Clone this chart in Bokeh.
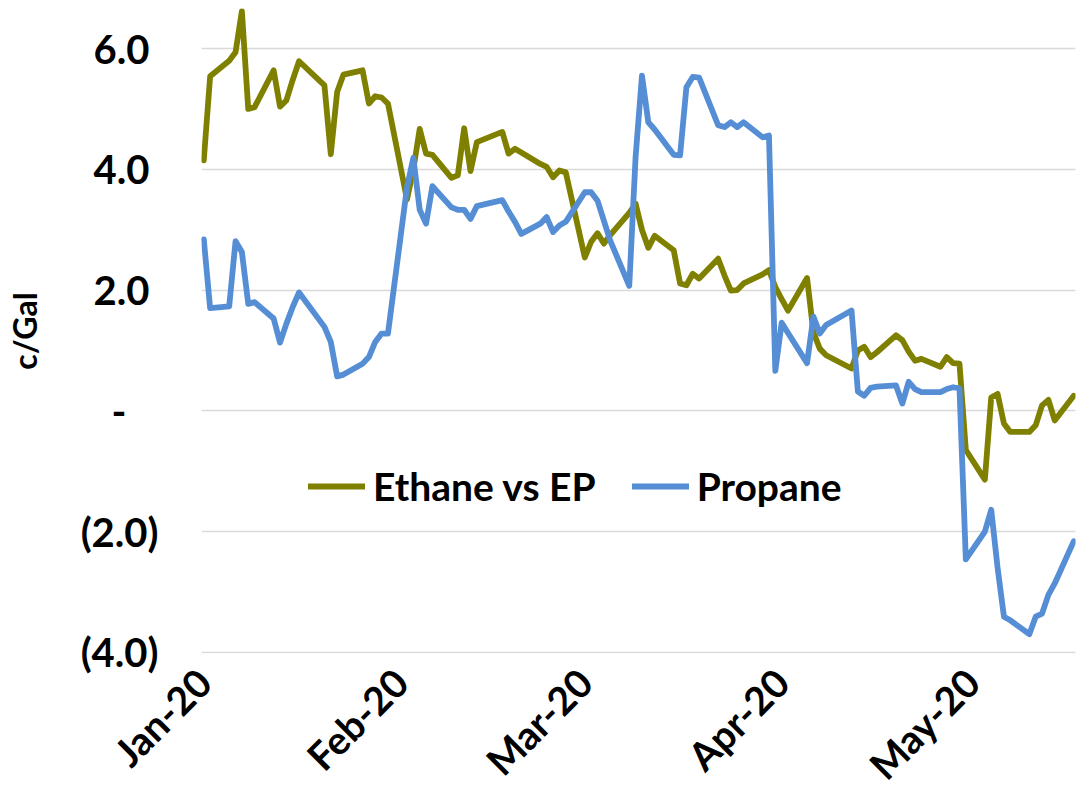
import math
import pandas as pd
from bokeh.plotting import figure
from bokeh.models import (Range1d, FixedTicker, DatetimeTickFormatter, Legend, LegendItem,
                          ColumnDataSource)
from bokeh.embed import file_html
from bokeh.resources import INLINE

# ---------------- data ----------------
dates = [
    "2020-01-02", "2020-01-03", "2020-01-06", "2020-01-07", "2020-01-08", "2020-01-09", "2020-01-10",
    "2020-01-13", "2020-01-14", "2020-01-15", "2020-01-16", "2020-01-17",
    "2020-01-21", "2020-01-22", "2020-01-23", "2020-01-24",
    "2020-01-27", "2020-01-28", "2020-01-29", "2020-01-30", "2020-01-31",
    "2020-02-03", "2020-02-04", "2020-02-05", "2020-02-06", "2020-02-07",
    "2020-02-10", "2020-02-11", "2020-02-12", "2020-02-13", "2020-02-14",
    "2020-02-18", "2020-02-19", "2020-02-20", "2020-02-21",
    "2020-02-24", "2020-02-25", "2020-02-26", "2020-02-27", "2020-02-28",
    "2020-03-02", "2020-03-03", "2020-03-04", "2020-03-05", "2020-03-06",
    "2020-03-09", "2020-03-10", "2020-03-11", "2020-03-12", "2020-03-13",
    "2020-03-16", "2020-03-17", "2020-03-18", "2020-03-19", "2020-03-20",
    "2020-03-23", "2020-03-24", "2020-03-25", "2020-03-26", "2020-03-27",
    "2020-03-30", "2020-03-31", "2020-04-01", "2020-04-02", "2020-04-03",
    "2020-04-06", "2020-04-07", "2020-04-08", "2020-04-09",
    "2020-04-13", "2020-04-14", "2020-04-15", "2020-04-16", "2020-04-17",
    "2020-04-20", "2020-04-21", "2020-04-22", "2020-04-23", "2020-04-24",
    "2020-04-27", "2020-04-28", "2020-04-29", "2020-04-30", "2020-05-01",
    "2020-05-04", "2020-05-05", "2020-05-06", "2020-05-07", "2020-05-08",
    "2020-05-11", "2020-05-12", "2020-05-13", "2020-05-14", "2020-05-15",
    "2020-05-18",
]

ethane = [
    4.15, 5.54, 5.80, 5.94, 6.62, 5.00, 5.03,
    5.64, 5.04, 5.14, 5.48, 5.79,
    5.39, 4.25, 5.28, 5.57,
    5.64, 5.09, 5.21, 5.19, 5.09,
    3.50, 4.00, 4.67, 4.26, 4.24,
    3.86, 3.90, 4.68, 3.97, 4.45,
    4.62, 4.26, 4.34, 4.28,
    4.09, 4.04, 3.87, 3.98, 3.95,
    2.54, 2.80, 2.94, 2.77, 2.91,
    3.28, 3.43, 3.00, 2.70, 2.90,
    2.66, 2.11, 2.08, 2.27, 2.19,
    2.52, 2.24, 1.99, 2.00, 2.11,
    2.26, 2.33, 2.05, 1.85, 1.66,
    2.20, 1.30, 1.03, 0.92,
    0.70, 1.00, 1.06, 0.89, 0.97,
    1.25, 1.17, 0.98, 0.83, 0.86,
    0.73, 0.89, 0.79, 0.78, -0.65,
    -1.14, 0.22, 0.28, -0.21, -0.35,
    -0.35, -0.24, 0.09, 0.18, -0.16,
    0.25,
]

propane = [
    2.84, 1.70, 1.73, 2.81, 2.63, 1.77, 1.80,
    1.53, 1.13, 1.44, 1.72, 1.96,
    1.39, 1.14, 0.57, 0.60,
    0.78, 0.89, 1.14, 1.28, 1.28,
    3.70, 4.19, 3.33, 3.10, 3.72,
    3.37, 3.33, 3.33, 3.18, 3.39,
    3.49, 3.30, 3.13, 2.93,
    3.10, 3.21, 2.96, 3.07, 3.13,
    3.62, 3.62, 3.48, 3.15, 2.82,
    2.07, 4.21, 5.55, 4.78, 4.66,
    4.24, 4.23, 5.36, 5.53, 5.52,
    4.73, 4.70, 4.78, 4.70, 4.78,
    4.53, 4.56, 0.66, 1.46, 1.29,
    0.79, 1.56, 1.28, 1.42,
    1.66, 0.32, 0.25, 0.38, 0.40,
    0.42, 0.12, 0.48, 0.36, 0.31,
    0.31, 0.36, 0.39, 0.37, -2.46,
    -2.00, -1.64, -2.60, -3.41, -3.47,
    -3.70, -3.41, -3.36, -3.05, -2.86,
    -2.16,
]

series_names = ["Ethane vs EP", "Propane"]
series_colors = ["#808000", "#558ED5"]

y_ticks = [-4, -2, 0, 2, 4, 6]
y_tick_labels = ["(4.0)", "(2.0)", "-\u2007\u2008", "2.0\u2008", "4.0\u2008", "6.0\u2008"]
x_tick_dates = ["2020-01-02", "2020-02-02", "2020-03-02", "2020-04-02", "2020-05-02"]
y_title = "c/Gal"

# ---------------- plot ----------------
FONT = "Lato"
x = pd.to_datetime(dates)
src = ColumnDataSource(dict(x=x, ethane=ethane, propane=propane))

day_ms = 86400000.0
x0 = pd.Timestamp(dates[0]).value / 1e6 - 0.36 * day_ms
x1 = pd.Timestamp(dates[-1]).value / 1e6 + 0.27 * day_ms

p = figure(width=1077, height=807, x_axis_type="datetime",
           x_range=Range1d(x0, x1), y_range=Range1d(-4.02, 6.664),
           output_backend="svg", toolbar_location=None,
           min_border_left=201, min_border_right=2, min_border_top=8, min_border_bottom=154)
p.outline_line_color = None
p.background_fill_color = "white"
p.border_fill_color = "white"

p.xgrid.visible = False
p.ygrid.grid_line_color = "#d9d9d9"
p.ygrid.grid_line_width = 1.6

# y axis
p.yaxis.ticker = FixedTicker(ticks=y_ticks)
p.yaxis.major_label_overrides = {float(t): lab for t, lab in zip(y_ticks, y_tick_labels)}
p.yaxis.axis_line_color = None
p.yaxis.major_tick_line_color = None
p.yaxis.minor_tick_line_color = None
p.yaxis.major_tick_out = 0
p.yaxis.major_label_standoff = 43
p.yaxis.major_label_text_font = FONT
p.yaxis.major_label_text_font_style = "bold"
p.yaxis.major_label_text_font_size = "40px"
p.yaxis.major_label_text_color = "black"
p.yaxis.axis_label = y_title
p.yaxis.axis_label_text_font = FONT
p.yaxis.axis_label_text_font_style = "bold"
p.yaxis.axis_label_text_font_size = "32px"
p.yaxis.axis_label_text_color = "black"
p.yaxis.axis_label_standoff = 34

# x axis
p.xaxis.ticker = FixedTicker(ticks=[pd.Timestamp(d).value / 1e6 for d in x_tick_dates])
p.xaxis.formatter = DatetimeTickFormatter(days="%b-%y", months="%b-%y")
p.xaxis.axis_line_color = None
p.xaxis.major_tick_line_color = None
p.xaxis.minor_tick_line_color = None
p.xaxis.major_tick_out = 0
p.xaxis.major_label_orientation = math.pi / 4
p.xaxis.major_label_standoff = 22
p.xaxis.major_label_text_font = FONT
p.xaxis.major_label_text_font_style = "bold"
p.xaxis.major_label_text_font_size = "39px"
p.xaxis.major_label_text_color = "black"

r_e = p.line("x", "ethane", source=src, line_color=series_colors[0], line_width=5.8,
             line_join="round", line_cap="round")
r_p = p.line("x", "propane", source=src, line_color=series_colors[1], line_width=5.8,
             line_join="round", line_cap="round")

legend = Legend(items=[LegendItem(label=series_names[0], renderers=[r_e]),
                       LegendItem(label=series_names[1], renderers=[r_p])],
                orientation="horizontal", location=(107, 144),
                border_line_color=None, background_fill_alpha=0,
                padding=0, margin=0, spacing=36, label_standoff=8,
                glyph_width=57, glyph_height=20,
                label_text_font=FONT, label_text_font_style="bold",
                label_text_font_size="39px", label_text_color="black")
p.add_layout(legend)

open("out.html", "w").write(file_html(p, INLINE))
